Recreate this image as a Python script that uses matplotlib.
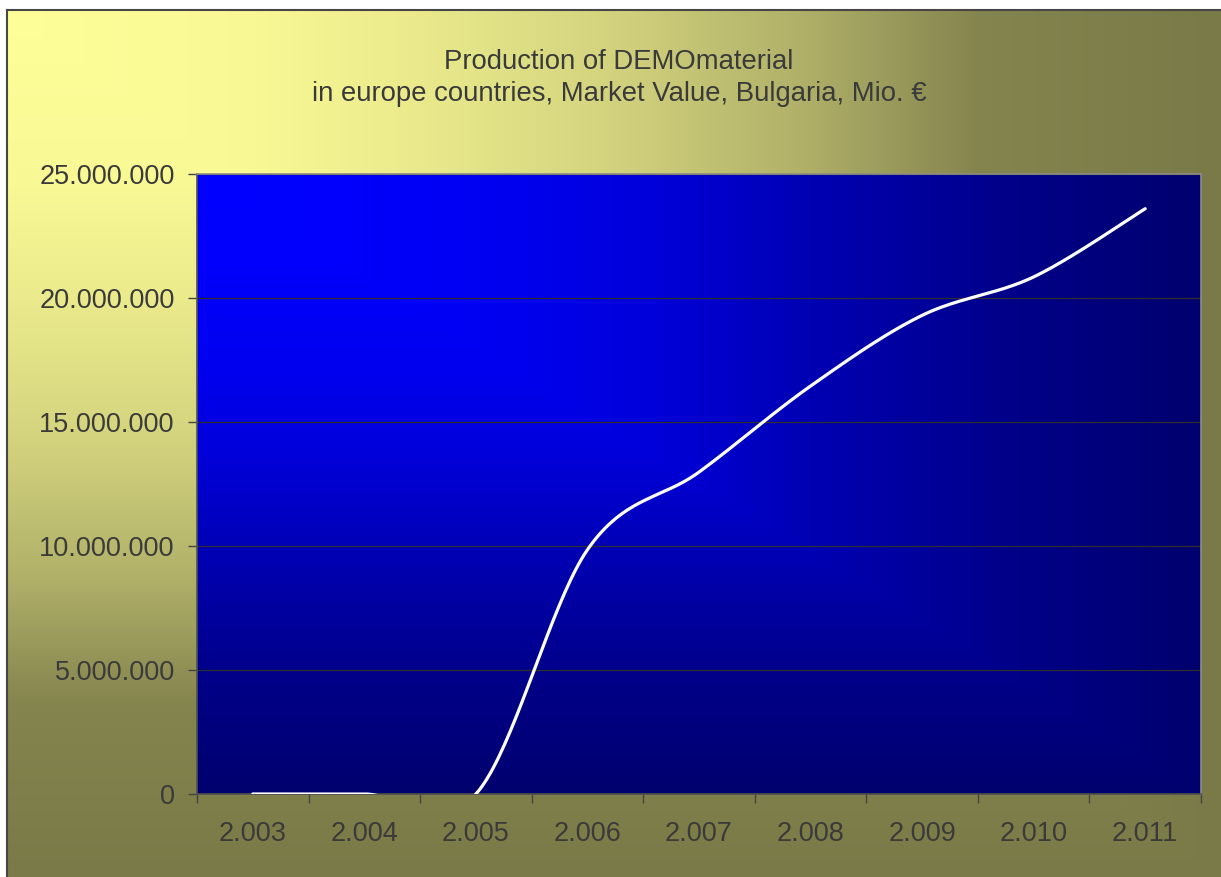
import numpy as np
import matplotlib
matplotlib.use('Agg')
import matplotlib.pyplot as plt
from matplotlib.ticker import FuncFormatter

# datos del grafico
anios = ['2.003', '2.004', '2.005', '2.006', '2.007', '2.008', '2.009', '2.010', '2.011']
valores = [0, 0, 0, 9850000, 12980000, 16450000, 19300000, 20850000, 23600000]
ticks_y = [0, 5000000, 10000000, 15000000, 20000000, 25000000]

titulo = 'Production of DEMOmaterial\nin europe countries, Market Value, Bulgaria, Mio. €'

plt.rcParams['font.family'] = ['Liberation Sans', 'DejaVu Sans']
color_texto = '#3a3a3a'


def suavizar(xs, ys, pasos=40):
    """Curva suavizada tipo Excel (Bezier con puntos de control a 1/6)."""
    px = np.asarray(xs, float)
    py = np.asarray(ys, float)
    n = len(px)
    out_x, out_y = [], []
    t = np.linspace(0, 1, pasos)
    for i in range(n - 1):
        a = max(i - 1, 0)
        d = min(i + 2, n - 1)
        c1x = px[i] + (px[i + 1] - px[a]) / 6
        c1y = py[i] + (py[i + 1] - py[a]) / 6
        c2x = px[i + 1] - (px[d] - px[i]) / 6
        c2y = py[i + 1] - (py[d] - py[i]) / 6
        bx = (1 - t) ** 3 * px[i] + 3 * (1 - t) ** 2 * t * c1x + 3 * (1 - t) * t ** 2 * c2x + t ** 3 * px[i + 1]
        by = (1 - t) ** 3 * py[i] + 3 * (1 - t) ** 2 * t * c1y + 3 * (1 - t) * t ** 2 * c2y + t ** 3 * py[i + 1]
        out_x.extend(bx)
        out_y.extend(by)
    return np.array(out_x), np.array(out_y)


def degradado(ancho, alto, c0, c1, xp, fp):
    """Degradado 'desde la esquina' (superior izquierda)."""
    sx = np.linspace(0, 1, ancho)[None, :]
    sy = np.linspace(0, 1, alto)[:, None]
    s = np.maximum(sx, sy)
    t = np.interp(s, xp, fp)[..., None]
    c0 = np.array(c0, float) / 255
    c1 = np.array(c1, float) / 255
    return c0 * (1 - t) + c1 * t


W, H = 1221, 877
fig = plt.figure(figsize=(W / 100, H / 100), dpi=100, facecolor='white')

# fondo del grafico
fondo = fig.add_axes([7 / W, 0, 1 - 7 / W, 1 - 10 / H])
img = degradado(300, 220, (255, 255, 153), (122, 122, 72),
                [0, 0.2, 0.33, 0.49, 0.66, 0.8, 1], [0, 0.05, 0.15, 0.32, 0.6, 0.92, 1])
fondo.imshow(img, extent=[0, 1, 0, 1], aspect='auto', origin='upper', interpolation='bilinear')
fondo.set_xticks([])
fondo.set_yticks([])
fondo.spines['right'].set_visible(False)
fondo.spines['bottom'].set_visible(False)
for lado in ['left', 'top']:
    fondo.spines[lado].set_color('#464646')
    fondo.spines[lado].set_linewidth(1.5)

fig.text(619 / W, 1 - 78 / H, titulo, ha='center', va='center', fontsize=19.8,
         color=color_texto, linespacing=1.3)

# area de trazado
ax = fig.add_axes([197 / W, 1 - 794 / H, (1201 - 197) / W, (794 - 174) / H])
n = len(anios)
img2 = degradado(300, 200, (0, 0, 255), (0, 0, 110),
                 [0, 0.15, 0.3, 0.45, 0.6, 0.8, 1], [0, 0.02, 0.1, 0.25, 0.5, 0.8, 1])
ax.imshow(img2, extent=[0, n, 0, 25000000], aspect='auto', origin='upper',
          interpolation='bilinear', zorder=0)

xs = np.arange(n) + 0.5
cx, cy = suavizar(xs, valores)
ax.plot(cx, cy, color='white', lw=2.3, solid_capstyle='round', zorder=3)

ax.set_xlim(0, n)
ax.set_ylim(0, 25000000)
ax.set_yticks(ticks_y)
ax.yaxis.set_major_formatter(FuncFormatter(lambda v, p: f'{int(v):,}'.replace(',', '.')))
ax.yaxis.grid(True, color='#2e2e2e', lw=0.9, zorder=1)

ax.set_xticks(np.arange(n + 1))
ax.set_xticklabels([])
ax.set_xticks(xs, minor=True)
ax.set_xticklabels(anios, minor=True)

ax.tick_params(axis='y', direction='out', length=6.5, width=1, color='#444444',
               labelsize=19.5, labelcolor=color_texto, pad=9.5)
ax.tick_params(axis='x', which='major', direction='out', length=6.5, width=1, color='#444444')
ax.tick_params(axis='x', which='minor', length=0, labelsize=19.5, labelcolor=color_texto, pad=19.5)

for lado in ['left', 'bottom']:
    ax.spines[lado].set_color('#505050')
    ax.spines[lado].set_linewidth(1.2)
for lado in ['top', 'right']:
    ax.spines[lado].set_color('#8c8c8c')
    ax.spines[lado].set_linewidth(1.2)

fig.savefig('out.png', dpi=100, facecolor='white')
